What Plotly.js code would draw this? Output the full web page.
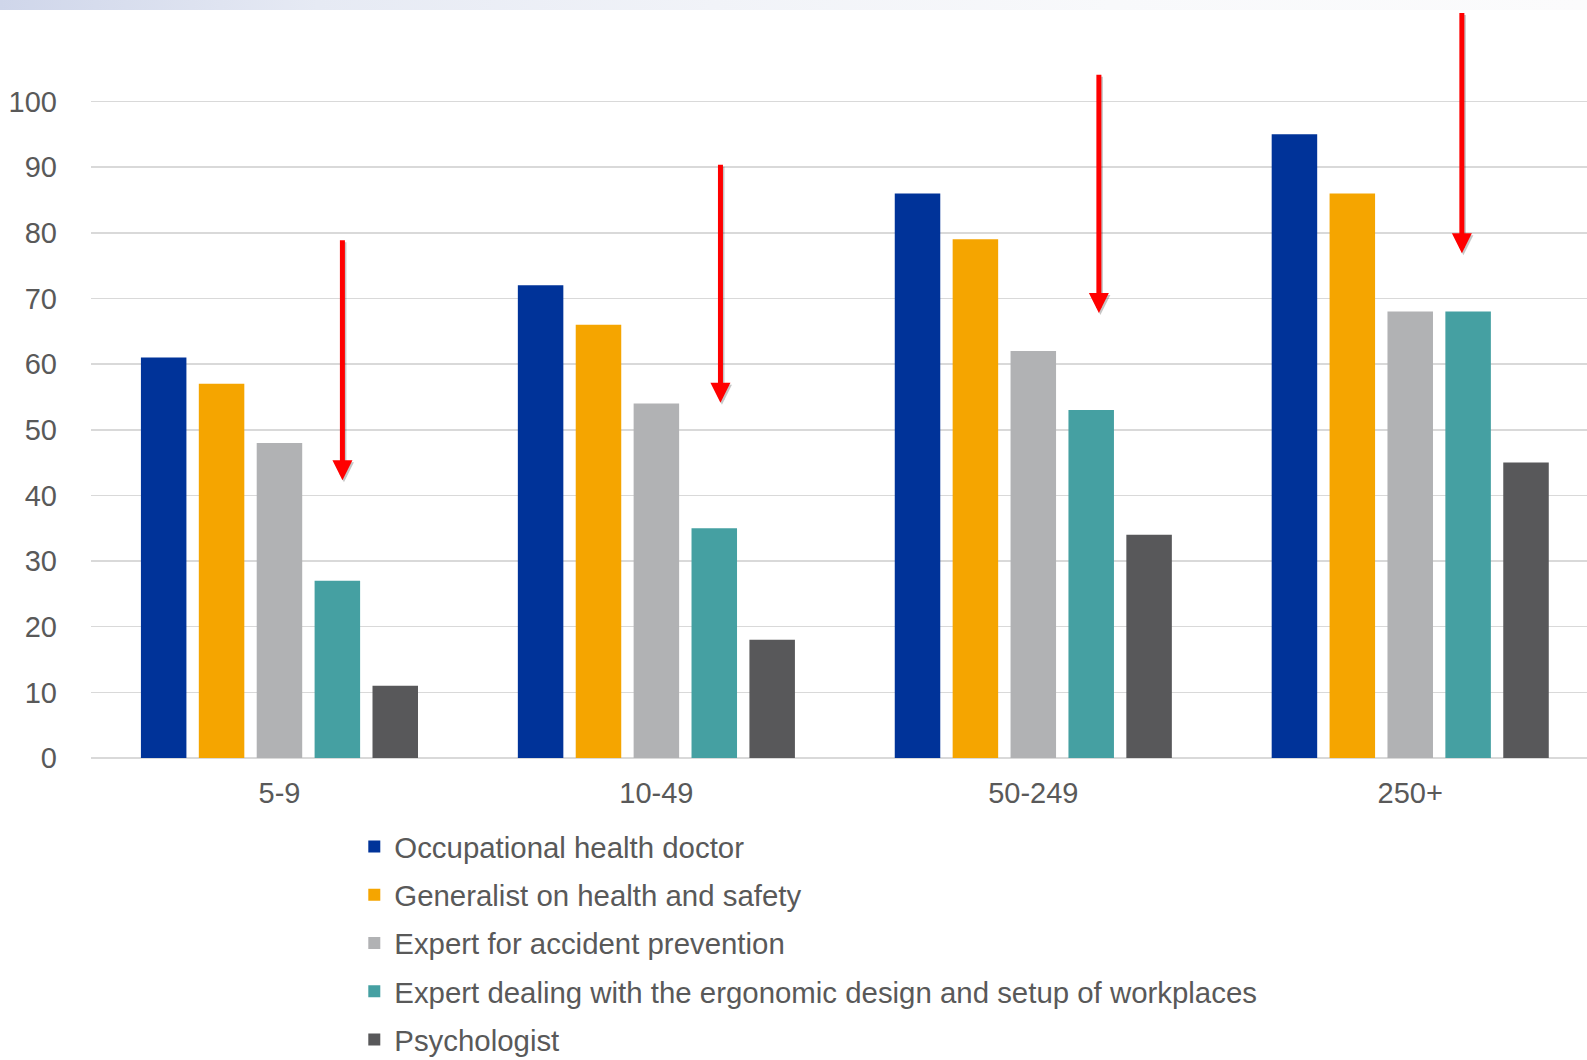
<!DOCTYPE html>
<html>
<head>
<meta charset="utf-8">
<script src="https://cdn.plot.ly/plotly-3.0.1.min.js"></script>
<style>
  html, body { margin: 0; padding: 0; background: #ffffff; overflow: hidden; }
  #topstrip { position: absolute; left: 0; top: 0; width: 1587px; height: 10px;
    background: linear-gradient(to right, #cfd6ea 0%, #e6eaf4 20%, #f1f3f8 45%, #f8f9fb 70%, #fbfbfc 100%); z-index: 0; }
  #chart { position: absolute; left: 0; top: 0; width: 1587px; height: 1060px; z-index: 1; }
</style>
</head>
<body>
<div id="topstrip"></div>
<div id="chart"></div>
<script>
// ---- data ----
const categories = ["5-9", "10-49", "50-249", "250+"];
const seriesNames = [
  "Occupational health doctor",
  "Generalist on health and safety",
  "Expert for accident prevention",
  "Expert dealing with the ergonomic design and setup of workplaces",
  "Psychologist"
];
const occupationalDoctor = [61, 72, 86, 95];
const generalist = [57, 66, 79, 86];
const accidentExpert = [48, 54, 62, 68];
const ergonomicExpert = [27, 35, 53, 68];
const psychologist = [11, 18, 34, 45];
const yTicks = [0, 10, 20, 30, 40, 50, 60, 70, 80, 90, 100];

// red arrows (data units): x position, tail value, head value
const arrowX = [0.167, 1.17, 2.174, 3.137];
const arrowFrom = [79.1, 90.6, 104.3, 113.7];
const arrowTo = [42.3, 54.1, 67.8, 76.9];

const seriesValues = [occupationalDoctor, generalist, accidentExpert, ergonomicExpert, psychologist];
const colors = ["#003399", "#F5A500", "#B1B2B4", "#45A0A2", "#58585A"];

const traces = seriesValues.map((vals, i) => ({
  type: "bar",
  name: seriesNames[i],
  x: categories,
  y: vals,
  marker: { color: colors[i] },
  legendgroup: "g" + i,
  hoverinfo: "skip"
}));

const annotations = [];
arrowX.forEach((ax, i) => {
  // shadow
  annotations.push({
    x: ax, y: arrowTo[i], ax: ax, ay: arrowFrom[i],
    xref: "x", yref: "y", axref: "x", ayref: "y",
    xshift: 1.5, yshift: -2,
    text: "", showarrow: true, arrowhead: 2, arrowsize: 0.8, arrowwidth: 5,
    arrowcolor: "rgba(0,0,0,0.22)", standoff: 0, startstandoff: 0
  });
  annotations.push({
    x: ax, y: arrowTo[i], ax: ax, ay: arrowFrom[i],
    xref: "x", yref: "y", axref: "x", ayref: "y",
    text: "", showarrow: true, arrowhead: 2, arrowsize: 0.8, arrowwidth: 5,
    arrowcolor: "#FF0000", standoff: 0, startstandoff: 0
  });
});

const layout = {
  width: 1587,
  height: 1060,
  margin: { l: 91, r: 0, t: 0, b: 302, autoexpand: false },
  paper_bgcolor: "rgba(0,0,0,0)",
  plot_bgcolor: "rgba(0,0,0,0)",
  font: { family: "Liberation Sans, Arial, sans-serif", size: 29, color: "#595959" },
  barmode: "group",
  bargap: 0.232,
  bargroupgap: 0.214,
  xaxis: {
    type: "category",
    range: [-0.5, 3.469],
    automargin: false,
    showgrid: false,
    zeroline: false,
    showline: false,
    ticks: "",
    ticklabelstandoff: 15,
    tickfont: { size: 29, color: "#595959" },
    fixedrange: true
  },
  yaxis: {
    range: [0, 115.46],
    automargin: false,
    tickvals: yTicks,
    ticktext: yTicks.map(String),
    showgrid: true,
    gridcolor: "#D9D9D9",
    gridwidth: 1.5,
    zeroline: true,
    zerolinecolor: "#D9D9D9",
    zerolinewidth: 1.5,
    showline: false,
    ticks: "",
    ticklabelstandoff: 33,
    tickfont: { size: 29, color: "#595959" },
    fixedrange: true
  },
  showlegend: true,
  legend: {
    orientation: "v",
    x: 0.176,
    xanchor: "left",
    y: -0.083,
    yanchor: "top",
    font: { size: 29.4, color: "#595959" },
    tracegroupgap: 7,
    bgcolor: "rgba(0,0,0,0)"
  },
  annotations: annotations
};

Plotly.newPlot("chart", traces, layout, { displayModeBar: false, staticPlot: true });
</script>
</body>
</html>
